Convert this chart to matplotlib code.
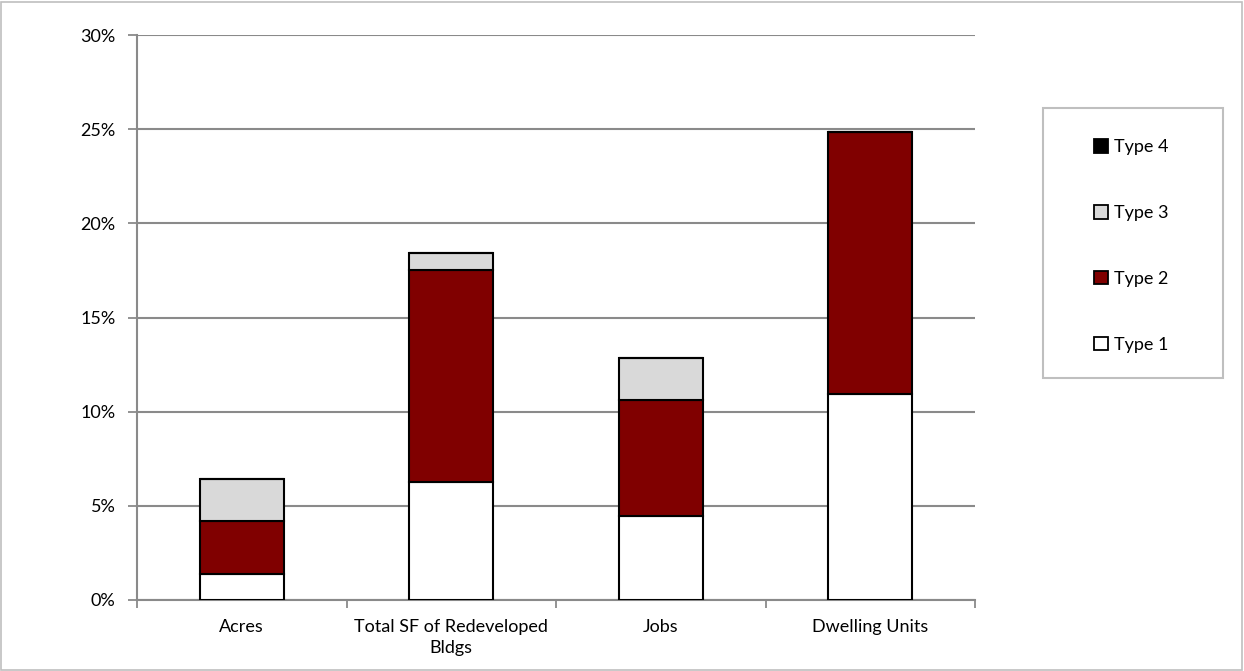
import matplotlib
matplotlib.use("Agg")
import matplotlib.pyplot as plt
from matplotlib.patches import Rectangle, Patch
from matplotlib.ticker import FuncFormatter, MultipleLocator
import numpy as np

categories = ["Acres", "Total SF of Redeveloped\nBldgs", "Jobs", "Dwelling Units"]
type1 = [1.38, 6.25, 4.48, 10.95]
type2 = [2.79, 11.25, 6.12, 13.90]
type3 = [2.24, 0.92, 2.25, 0.0]
type4 = [0.0, 0.0, 0.0, 0.0]
series_names = ["Type 1", "Type 2", "Type 3", "Type 4"]
colors = ["#FFFFFF", "#800000", "#D9D9D9", "#000000"]

plt.rcParams['font.family'] = ['Lato', 'DejaVu Sans']
FS = 13

W, H = 1244, 671
fig = plt.figure(figsize=(W / 100, H / 100), dpi=100)
ax = fig.add_axes([137 / W, 1 - 600 / H, (975 - 137) / W, (600 - 35) / H])

x = np.arange(len(categories))
bottom = np.zeros(len(categories))
handles = []
for vals, name, c in zip([type1, type2, type3, type4], series_names, colors):
    v = np.array(vals)
    ax.bar(x, v, 0.4, bottom=bottom, color=c, edgecolor="black", linewidth=1.5, zorder=3)
    bottom += v
    handles.append(Patch(facecolor=c, edgecolor="black", linewidth=1.3, label=name))

ax.set_xlim(-0.5, len(categories) - 0.5)
ax.set_ylim(0, 30)
ax.yaxis.set_major_locator(MultipleLocator(5))
ax.yaxis.set_major_formatter(FuncFormatter(lambda v, p: f"{v:.0f}%"))
ax.grid(axis="y", color="#8A8A8A", linewidth=1.5, zorder=0)
ax.set_xticks(np.arange(-0.5, len(categories), 1.0))
ax.set_xticklabels([])
ax.set_xticks(x, minor=True)
ax.set_xticklabels(categories, minor=True, fontsize=FS, linespacing=1.35)
ax.tick_params(axis="x", which="minor", length=0, pad=14)
ax.tick_params(axis="x", which="major", length=6, color="#8A8A8A", width=1.3)
ax.tick_params(axis="y", length=6.5, color="#8A8A8A", width=1.3, labelsize=FS, pad=9)
for s in ["top", "right"]:
    ax.spines[s].set_visible(False)
for s in ["left", "bottom"]:
    ax.spines[s].set_color("#8A8A8A")
    ax.spines[s].set_linewidth(1.5)

leg = fig.legend(handles=handles[::-1], loc="center left",
                 bbox_to_anchor=(1094 / W, 1 - 246 / H), frameon=False,
                 fontsize=FS, handlelength=0.78, handleheight=0.78, handletextpad=0.3,
                 labelspacing=2.75, borderpad=0, borderaxespad=0)

fig.patches.append(Rectangle((1043 / W, 1 - 378 / H), 180 / W, 270 / H, transform=fig.transFigure,
                             fill=False, edgecolor="#BFBFBF", linewidth=1.5))
fig.patches.append(Rectangle((1 / W, 1 / H), 1 - 3 / W, 1 - 3 / H, transform=fig.transFigure,
                             fill=False, edgecolor="#BFBFBF", linewidth=1.2))

fig.savefig("out.png", dpi=100)
